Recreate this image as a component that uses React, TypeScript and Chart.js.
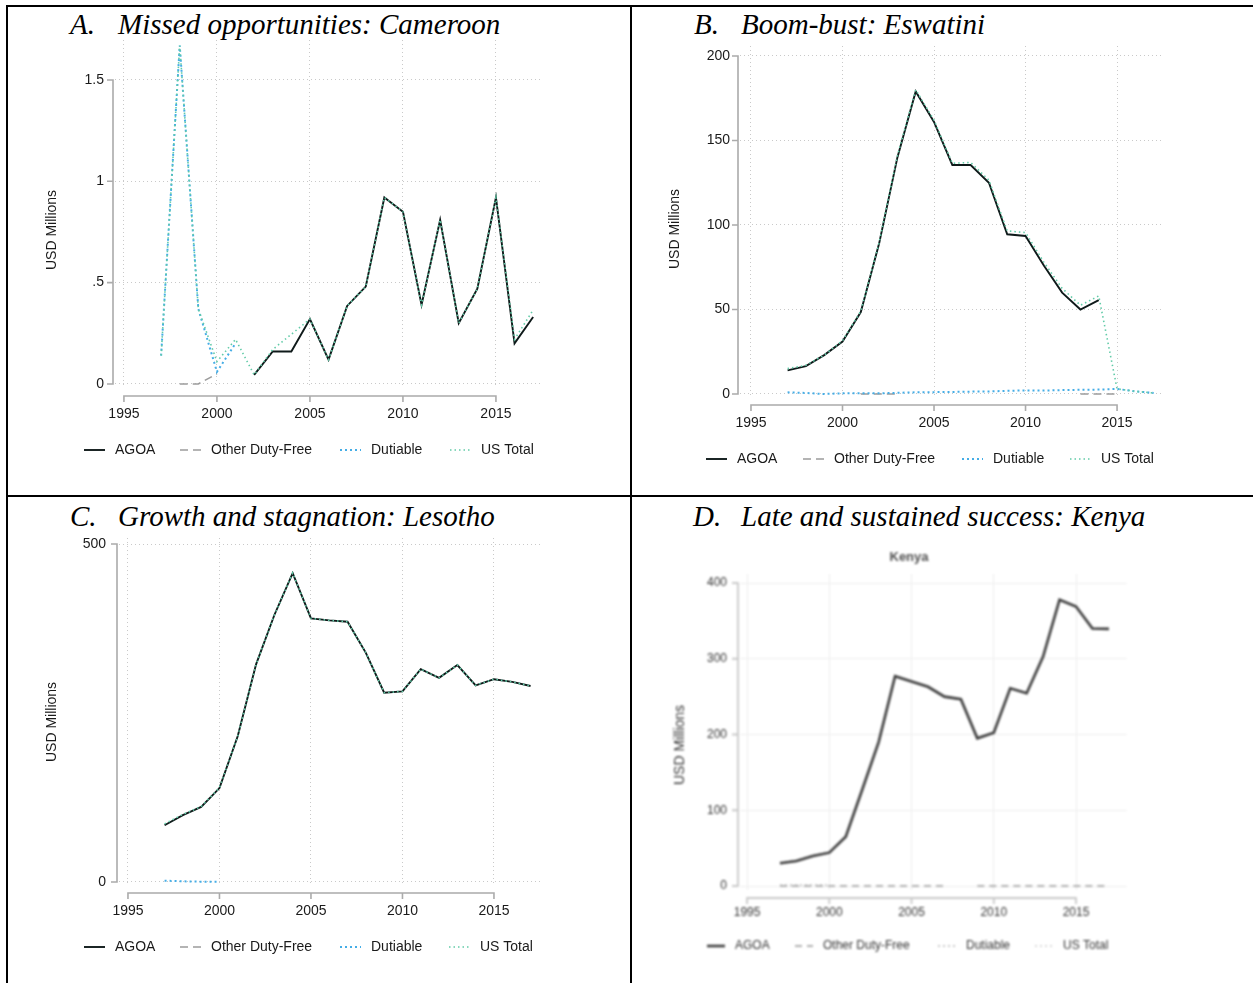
import React, { useEffect, useRef } from "react";
import { Chart, registerables } from "chart.js";

Chart.register(...registerables);

const SANS = '"Liberation Sans", Arial, Helvetica, sans-serif';
const SERIF = '"Liberation Serif", "Times New Roman", Times, serif';

// Years shared by every panel
const years = [
  1997, 1998, 1999, 2000, 2001, 2002, 2003, 2004, 2005, 2006, 2007,
  2008, 2009, 2010, 2011, 2012, 2013, 2014, 2015, 2016, 2017,
];
const xTicks = [1995, 2000, 2005, 2010, 2015];
const seriesNames = ["AGOA", "Other Duty-Free", "Dutiable", "US Total"];

type Series = (number | null)[];

// A. Cameroon (USD millions)
const cameroonAgoa: Series = [null, null, null, null, null, 0.045, 0.16, 0.16, 0.32, 0.12, 0.385, 0.48, 0.92, 0.85, 0.39, 0.81, 0.3, 0.47, 0.92, 0.2, 0.33];
const cameroonOther: Series = [null, 0, 0, 0.05, null, null, null, null, null, null, null, null, null, null, null, null, null, null, null, null, null];
const cameroonDutiable: Series = [0.14, 1.67, 0.37, 0.06, 0.2, null, null, null, null, null, null, null, null, null, null, null, null, null, null, null, null];
const cameroonTotal: Series = [0.14, 1.67, 0.37, 0.11, 0.22, 0.045, 0.17, 0.245, 0.32, 0.12, 0.385, 0.48, 0.92, 0.85, 0.39, 0.81, 0.3, 0.47, 0.92, 0.22, 0.365];
const cameroonYTicks = [0, 0.5, 1, 1.5];
const cameroonYLabels = ["0", ".5", "1", "1.5"];

// B. Eswatini (USD millions)
const eswatiniAgoa: Series = [14, 16.5, 23, 31, 48.5, 89, 140, 179, 161, 135.5, 135.5, 125, 94.5, 93.5, 76, 60, 50, 55.5, null, null, null];
const eswatiniOther: Series = [null, null, null, null, 0, 0, 0, null, null, null, null, null, null, null, null, null, 0, 0, 0, null, null];
const eswatiniDutiable: Series = [1.0, 0.6, 0.0, 0.4, 0.5, 0.4, 0.7, 1.0, 1.1, 1.2, 1.4, 1.5, 1.9, 2.1, 2.0, 2.3, 2.5, 2.6, 3.0, 1.6, 0.6];
const eswatiniTotal: Series = [15, 17, 23, 31.5, 49, 89.5, 141, 180, 162, 136.5, 137, 126.5, 96.5, 95.5, 78, 62.5, 52.5, 58, 3.0, 1.6, 0.6];
const eswatiniYTicks = [0, 50, 100, 150, 200];
const eswatiniYLabels = ["0", "50", "100", "150", "200"];

// C. Lesotho (USD millions)
const lesothoAgoa: Series = [84, 99, 111, 139, 216, 322, 395, 457, 390, 387, 385, 339, 280, 282, 315, 302, 321, 291, 300, 296, 290];
const lesothoOther: Series = [null, null, null, null, null, null, null, null, null, null, null, null, null, null, null, null, null, null, null, null, null];
const lesothoDutiable: Series = [2, 1, 0.5, 0.5, null, null, null, null, null, null, null, null, null, null, null, null, null, null, null, null, null];
const lesothoTotal: Series = [86, 100, 111.5, 139.5, 216, 322, 395, 457, 390, 387, 385, 339, 280, 282, 315, 302, 321, 291, 300, 296, 290];
const lesothoYTicks = [0, 500];
const lesothoYLabels = ["0", "500"];

// D. Kenya (USD millions)
const kenyaAgoa: Series = [30, 33, 39.6, 44, 65, 127, 190, 277, 270, 263, 250, 246.6, 195, 202.5, 261, 254.5, 303, 378, 369, 340, 339.5];
const kenyaOther: Series = [0, 0, 0, 0, 0, 0, 0, 0, 0, 0, 0, null, 0, 0, 0, 0, 0, 0, 0, 0, 0];
const kenyaDutiable: Series = [1, 1, 1, 1, null, null, null, null, null, null, null, null, null, null, null, null, null, null, null, null, null];
const kenyaTotal: Series = [31, 34, 40.6, 45, 65, 127, 190, 277, 270, 263, 250, 246.6, 195, 202.5, 261, 254.5, 303, 378, 369, 340, 339.5];
const kenyaYTicks = [0, 100, 200, 300, 400];
const kenyaYLabels = ["0", "100", "200", "300", "400"];

interface LineStyle {
  color: string;
  width: number;
  dash: number[];
  order: number;
}

const colourStyles: LineStyle[] = [
  { color: "#0f1a1a", width: 1.9, dash: [], order: 3 },
  { color: "#9c9c9c", width: 1.6, dash: [8, 5], order: 2 },
  { color: "#45ade6", width: 2, dash: [2, 3], order: 1 },
  { color: "#62cba8", width: 1.6, dash: [1.5, 3], order: 0 },
];
const greyStyles: LineStyle[] = [
  { color: "#3d3d3d", width: 2.6, dash: [], order: 0 },
  { color: "#b0b0b0", width: 2, dash: [7, 5], order: 1 },
  { color: "#c8c8c8", width: 2, dash: [2, 3], order: 2 },
  { color: "#dadada", width: 2, dash: [2, 3], order: 3 },
];

interface PanelSpec {
  key: string;
  canvas: { left: number; top: number; width: number; height: number };
  area: { left: number; top: number; right: number; bottom: number };
  xRange: [number, number];
  yRange: [number, number];
  yTicks: number[];
  yLabels: string[];
  series: Series[];
  styles: LineStyle[];
  font: number;
  titleFont: number;
  textColor: string;
  axisColor: string;
  axisWidth: number;
  gridColor: string;
  gridDash: number[];
  yAxisX: number;
  xAxisY: number;
  xLabelCenter: number;
  yLabelRight: number;
  yTitle: { x: number; y: number };
  legend: { y: number; samples: number[]; sampleWidth: number; textDx: number };
  chartTitle?: { text: string; x: number; y: number };
  blur?: number;
}

const panels: PanelSpec[] = [
  {
    key: "cameroon",
    canvas: { left: 20, top: 10, width: 600, height: 475 },
    area: { left: 115, top: 40, right: 543, bottom: 388 },
    xRange: [1994.52, 2017.53],
    yRange: [-0.02, 1.697],
    yTicks: cameroonYTicks,
    yLabels: cameroonYLabels,
    series: [cameroonAgoa, cameroonOther, cameroonDutiable, cameroonTotal],
    styles: colourStyles,
    font: 14,
    titleFont: 14,
    textColor: "#1a1a1a",
    axisColor: "#ababab",
    axisWidth: 1.6,
    gridColor: "#c9c9c9",
    gridDash: [1, 3],
    yAxisX: 113,
    xAxisY: 396,
    xLabelCenter: 414.5,
    yLabelRight: 104,
    yTitle: { x: 52, y: 230 },
    legend: { y: 450, samples: [84, 180, 340, 450], sampleWidth: 21, textDx: 31 },
  },
  {
    key: "eswatini",
    canvas: { left: 640, top: 12, width: 600, height: 475 },
    area: { left: 740, top: 46, right: 1163, bottom: 398 },
    xRange: [1994.4, 2017.51],
    yRange: [-2.37, 205.9],
    yTicks: eswatiniYTicks,
    yLabels: eswatiniYLabels,
    series: [eswatiniAgoa, eswatiniOther, eswatiniDutiable, eswatiniTotal],
    styles: colourStyles,
    font: 14,
    titleFont: 14,
    textColor: "#1a1a1a",
    axisColor: "#ababab",
    axisWidth: 1.6,
    gridColor: "#c9c9c9",
    gridDash: [1, 3],
    yAxisX: 738,
    xAxisY: 405,
    xLabelCenter: 423,
    yLabelRight: 730,
    yTitle: { x: 675, y: 229 },
    legend: { y: 459, samples: [706, 803, 962, 1070], sampleWidth: 21, textDx: 31 },
  },
  {
    key: "lesotho",
    canvas: { left: 20, top: 505, width: 600, height: 475 },
    area: { left: 119, top: 538, right: 541, bottom: 886 },
    xRange: [1994.51, 2017.57],
    yRange: [-5.92, 508.9],
    yTicks: lesothoYTicks,
    yLabels: lesothoYLabels,
    series: [lesothoAgoa, lesothoOther, lesothoDutiable, lesothoTotal],
    styles: colourStyles,
    font: 14,
    titleFont: 14,
    textColor: "#1a1a1a",
    axisColor: "#ababab",
    axisWidth: 1.6,
    gridColor: "#c9c9c9",
    gridDash: [1, 3],
    yAxisX: 117,
    xAxisY: 893,
    xLabelCenter: 911,
    yLabelRight: 106,
    yTitle: { x: 52, y: 722 },
    legend: { y: 947, samples: [84, 180, 340, 449], sampleWidth: 21, textDx: 31 },
  },
  {
    key: "kenya",
    canvas: { left: 640, top: 530, width: 600, height: 450 },
    area: { left: 740, top: 574, right: 1127, bottom: 890 },
    xRange: [1994.57, 2018.1],
    yRange: [-5.28, 411.9],
    yTicks: kenyaYTicks,
    yLabels: kenyaYLabels,
    series: [kenyaAgoa, kenyaOther, kenyaDutiable, kenyaTotal],
    styles: greyStyles,
    font: 12,
    titleFont: 14,
    textColor: "#333333",
    axisColor: "#c8c8c8",
    axisWidth: 1.8,
    gridColor: "#eeeeee",
    gridDash: [],
    yAxisX: 738,
    xAxisY: 898,
    xLabelCenter: 913,
    yLabelRight: 727,
    yTitle: { x: 680, y: 745 },
    legend: { y: 946, samples: [707, 795, 938, 1035], sampleWidth: 18, textDx: 28 },
    chartTitle: { text: "Kenya", x: 909, y: 557 },
    blur: 1,
  },
];

// Axis lines, axis title, legend and panel title drawn in Stata style
function framePlugin(spec: PanelSpec) {
  return {
    id: "frame-" + spec.key,
    afterDraw(chart: any) {
      const ctx: CanvasRenderingContext2D = chart.ctx;
      const xs = chart.scales.x;
      const ys = chart.scales.y;
      const ox = spec.canvas.left;
      const oy = spec.canvas.top;
      ctx.save();
      ctx.setLineDash([]);
      ctx.strokeStyle = spec.axisColor;
      ctx.lineWidth = spec.axisWidth;
      ctx.lineCap = "butt";

      const yx = spec.yAxisX - ox;
      const yPix = spec.yTicks.map((v) => ys.getPixelForValue(v));
      ctx.beginPath();
      ctx.moveTo(yx, Math.max(...yPix) + 0.8);
      ctx.lineTo(yx, Math.min(...yPix) - 0.8);
      yPix.forEach((p) => {
        ctx.moveTo(yx - 6, p);
        ctx.lineTo(yx, p);
      });
      ctx.stroke();

      const xy = spec.xAxisY - oy;
      const xPix = xTicks.map((v) => xs.getPixelForValue(v));
      ctx.beginPath();
      ctx.moveTo(xPix[0] - 0.8, xy);
      ctx.lineTo(xPix[xPix.length - 1] + 0.8, xy);
      xPix.forEach((p) => {
        ctx.moveTo(p, xy);
        ctx.lineTo(p, xy + 6);
      });
      ctx.stroke();

      ctx.fillStyle = spec.textColor;
      ctx.font = `${spec.titleFont}px ${SANS}`;
      ctx.textAlign = "center";
      ctx.textBaseline = "middle";
      ctx.save();
      ctx.translate(spec.yTitle.x - ox, spec.yTitle.y - oy);
      ctx.rotate(-Math.PI / 2);
      ctx.fillText("USD Millions", 0, 0);
      ctx.restore();

      if (spec.chartTitle) {
        ctx.font = `bold 13px ${SANS}`;
        ctx.fillStyle = "#505050";
        ctx.fillText(spec.chartTitle.text, spec.chartTitle.x - ox, spec.chartTitle.y - oy);
      }

      ctx.font = `${spec.font}px ${SANS}`;
      ctx.textAlign = "left";
      const ly = spec.legend.y - oy;
      seriesNames.forEach((name, i) => {
        const st = spec.styles[i];
        const sx = spec.legend.samples[i] - ox;
        ctx.beginPath();
        ctx.strokeStyle = st.color;
        ctx.lineWidth = st.width;
        ctx.setLineDash(st.dash);
        ctx.moveTo(sx, ly);
        ctx.lineTo(sx + spec.legend.sampleWidth, ly);
        ctx.stroke();
        ctx.setLineDash([]);
        ctx.fillStyle = spec.textColor;
        ctx.fillText(name, sx + spec.legend.textDx, ly);
      });
      ctx.restore();
    },
  };
}

function buildConfig(spec: PanelSpec): any {
  const xScaleHeight = 30;
  const yScaleWidth = spec.area.left - spec.canvas.left;
  const padTop = spec.area.top - spec.canvas.top;
  const padRight = spec.canvas.left + spec.canvas.width - spec.area.right;
  const padBottom = spec.canvas.top + spec.canvas.height - spec.area.bottom - xScaleHeight;
  const lineHeight = spec.font * 1.2;
  const xTickPad = spec.xLabelCenter - spec.area.bottom - lineHeight / 2;
  const yTickPad = spec.area.left - spec.yLabelRight;
  const tickFont = { family: SANS, size: spec.font };

  return {
    type: "line",
    data: {
      labels: years,
      datasets: spec.series.map((data, i) => ({
        label: seriesNames[i],
        data,
        borderColor: spec.styles[i].color,
        borderWidth: spec.styles[i].width,
        borderDash: spec.styles[i].dash,
        order: spec.styles[i].order,
        pointRadius: 0,
        fill: false,
        tension: 0,
        spanGaps: false,
      })),
    },
    options: {
      animation: false,
      responsive: false,
      maintainAspectRatio: false,
      events: [],
      layout: {
        autoPadding: false,
        padding: { top: padTop, right: padRight, bottom: padBottom, left: 0 },
      },
      plugins: {
        legend: { display: false },
        tooltip: { enabled: false },
        title: { display: false },
      },
      scales: {
        x: {
          type: "linear",
          min: spec.xRange[0],
          max: spec.xRange[1],
          afterBuildTicks: (s: any) => {
            s.ticks = xTicks.map((v) => ({ value: v }));
          },
          afterFit: (s: any) => {
            s.height = xScaleHeight;
          },
          grid: { color: spec.gridColor, lineWidth: 1, drawTicks: false },
          border: { display: false, dash: spec.gridDash },
          ticks: {
            padding: xTickPad,
            font: tickFont,
            color: spec.textColor,
            maxRotation: 0,
            autoSkip: false,
            callback: (v: number) => String(v),
          },
        },
        y: {
          type: "linear",
          min: spec.yRange[0],
          max: spec.yRange[1],
          afterBuildTicks: (s: any) => {
            s.ticks = spec.yTicks.map((v) => ({ value: v }));
          },
          afterFit: (s: any) => {
            s.width = yScaleWidth;
          },
          grid: { color: spec.gridColor, lineWidth: 1, drawTicks: false },
          border: { display: false, dash: spec.gridDash },
          ticks: {
            padding: yTickPad,
            font: tickFont,
            color: spec.textColor,
            autoSkip: false,
            callback: (v: number) => {
              const i = spec.yTicks.indexOf(v);
              return i >= 0 ? spec.yLabels[i] : "";
            },
          },
        },
      },
    },
    plugins: [framePlugin(spec)],
  };
}

function PanelChart({ spec }: { spec: PanelSpec }) {
  const ref = useRef<HTMLCanvasElement>(null);
  useEffect(() => {
    if (!ref.current) return;
    const chart = new Chart(ref.current, buildConfig(spec));
    return () => chart.destroy();
  }, [spec]);
  return (
    <canvas
      ref={ref}
      width={spec.canvas.width}
      height={spec.canvas.height}
      style={{
        position: "absolute",
        left: spec.canvas.left,
        top: spec.canvas.top,
        width: spec.canvas.width,
        height: spec.canvas.height,
        filter: spec.blur ? `blur(${spec.blur}px)` : undefined,
      }}
    />
  );
}

const headings = [
  { letter: "A.", text: "Missed opportunities: Cameroon", x: 70, tx: 118, y: 10 },
  { letter: "B.", text: "Boom-bust: Eswatini", x: 694, tx: 741, y: 10 },
  { letter: "C.", text: "Growth and stagnation: Lesotho", x: 70, tx: 118, y: 502 },
  { letter: "D.", text: "Late and sustained success: Kenya", x: 693, tx: 741, y: 502 },
];

const headingStyle: React.CSSProperties = {
  position: "absolute",
  fontFamily: SERIF,
  fontStyle: "italic",
  fontSize: 29,
  lineHeight: "29px",
  color: "#000",
  whiteSpace: "nowrap",
};

function Rule({ x, y, w, h }: { x: number; y: number; w: number; h: number }) {
  return <div style={{ position: "absolute", left: x, top: y, width: w, height: h, background: "#000" }} />;
}

export default function App() {
  return (
    <div
      style={{
        position: "absolute",
        left: 0,
        top: 0,
        width: 1253,
        height: 983,
        overflow: "hidden",
        background: "#fff",
      }}
    >
      <div
        style={{
          position: "absolute",
          left: 0,
          width: 1253,
          top: -31,
          textAlign: "center",
          fontFamily: SERIF,
          fontStyle: "italic",
          fontWeight: "bold",
          fontSize: 29,
          lineHeight: "29px",
          whiteSpace: "nowrap",
        }}
      >
        Figure 5. Apparel opportunities gained and lost: country trajectory of AGOA apparel exports
      </div>
      <Rule x={6} y={5} w={1247} h={2} />
      <Rule x={6} y={5} w={2} h={978} />
      <Rule x={630} y={5} w={2} h={978} />
      <Rule x={6} y={495} w={1247} h={2} />
      {headings.map((h) => (
        <React.Fragment key={h.letter}>
          <div style={{ ...headingStyle, left: h.x, top: h.y }}>{h.letter}</div>
          <div style={{ ...headingStyle, left: h.tx, top: h.y }}>{h.text}</div>
        </React.Fragment>
      ))}
      {panels.map((p) => (
        <PanelChart key={p.key} spec={p} />
      ))}
    </div>
  );
}
